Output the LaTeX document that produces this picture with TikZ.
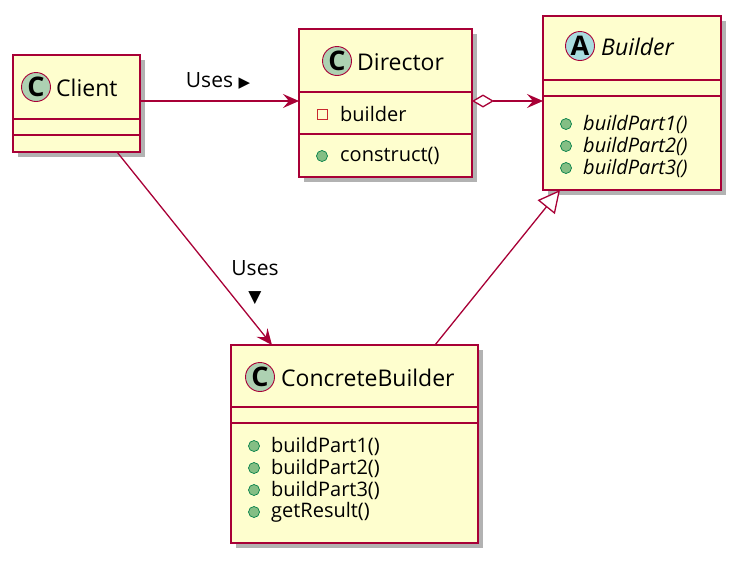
\documentclass[tikz,border=0pt]{standalone}
\usepackage{fontspec}
\setmainfont{Open Sans}
\newfontfamily\symf{DejaVu Sans}
\usetikzlibrary{shadows,arrows.meta}
\definecolor{bg}{HTML}{FEFECE}
\definecolor{bd}{HTML}{A80036}
\definecolor{cc}{HTML}{ADD1B2}
\definecolor{ac}{HTML}{A9DCDF}
\definecolor{gd}{HTML}{84BE84}
\definecolor{gb}{HTML}{038048}
\definecolor{rs}{HTML}{C82930}
\begin{document}
\begin{tikzpicture}[x=1pt,y=-1pt,
  cls/.style={draw=bd,line width=1.8pt,fill=bg,drop shadow={shadow xshift=5pt,shadow yshift=-5pt,opacity=0.5,fill=black!60},inner sep=0pt},
  sep/.style={draw=bd,line width=1.8pt},
  circ/.style={circle,draw=bd,line width=0.9pt,minimum size=29pt,inner sep=0pt,font=\fontsize{27}{27}\selectfont\bfseries},
  txt/.style={font=\fontsize{23}{26}\selectfont,inner sep=0pt,anchor=west},
  mem/.style={font=\fontsize{20}{24}\selectfont,inner sep=0pt,anchor=west},
  pub/.style={circle,draw=gb,fill=gd,minimum size=11pt,inner sep=0pt,line width=0.7pt},
  lnk/.style={draw=bd,line width=1.3pt},
  arr/.style={-{Stealth[length=16pt,width=14pt,inset=6pt]}},
  lab/.style={font=\fontsize{21}{24}\selectfont,inner sep=0pt}]
\useasboundingbox (0,0) rectangle (741,563);
% Client
\node[cls,minimum width=127pt,minimum height=97pt] (client) at (76.5,103.5) {};
\draw[sep] (13,119)--(140,119) (13,135)--(140,135);
\node[circ,fill=cc] (cC) at (36,87) {C};
\node[txt] (tC) at (56,88) {Client};
% Director
\node[cls,minimum width=173pt,minimum height=148pt] (director) at (385.5,103) {};
\draw[sep] (299,92)--(472,92) (299,134)--(472,134);
\node[circ,fill=cc] (cD) at (337,61) {C};
\node[txt] (tD) at (357,62) {Director};
\node[draw=rs,line width=0.9pt,minimum size=10pt,inner sep=0pt] (sq) at (322,114) {};
\node[mem] (mD1) at (340,114) {builder};
\node[pub] (pD) at (322,156) {};
\node[mem] (mD2) at (340,156) {construct()};
% Builder
\node[cls,minimum width=178pt,minimum height=174pt] (builder) at (632,103) {};
\draw[sep] (543,80)--(721,80) (543,96)--(721,96);
\node[circ,fill=ac] (cB) at (580,46) {A};
\node[txt,font=\fontsize{23}{26}\selectfont\itshape] (tB) at (601,47) {Builder};
\foreach \y/\n in {124/1,146/2,168/3}{
  \node[pub] (pB\n) at (566,\y) {};
  \node[mem,font=\fontsize{20}{24}\selectfont\itshape] (mB\n) at (583,\y) {buildPart\n()};}
% ConcreteBuilder
\node[cls,minimum width=247pt,minimum height=198pt] (cb) at (354.5,444) {};
\draw[sep] (231,407)--(478,407) (231,423)--(478,423);
\node[circ,fill=cc] (cCB) at (260,377) {C};
\node[txt] (tCB) at (281,378) {ConcreteBuilder};
\foreach \y/\t [count=\i] in {446/buildPart1(),468/buildPart2(),490/buildPart3(),512/getResult()}{
  \node[pub] (pc\i) at (254,\y) {};
  \node[mem] (mc\i) at (271,\y) {\t};}
% links
\coordinate (a1) at (140,101); \coordinate (a2) at (299,101);
\draw[lnk,arr] (a1)--(a2);
\node[lab] (l1) at (218,81) {Uses {\symf\fontsize{15}{15}\selectfont ▶}};
\coordinate (b1) at (117,152); \coordinate (b2) at (272,345);
\draw[lnk,arr] (b1)--(b2);
\node[lab] (l2) at (255,268) {Uses};
\node[lab] (l3) at (255,298) {\symf\fontsize{17}{17}\selectfont ▼};
\coordinate (d1) at (472,101); \coordinate (d2) at (543,101);
\draw[lnk,{Diamond[open,length=22pt,width=13pt,fill=white]}-{Stealth[length=16pt,width=14pt,inset=6pt]}] (d1)--(d2);
\coordinate (e1) at (435,345); \coordinate (e2) at (560,190);
\draw[lnk,-{Triangle[open,length=22pt,width=22pt,fill=white]}] (e1)--(e2);
\end{tikzpicture}
\end{document}
